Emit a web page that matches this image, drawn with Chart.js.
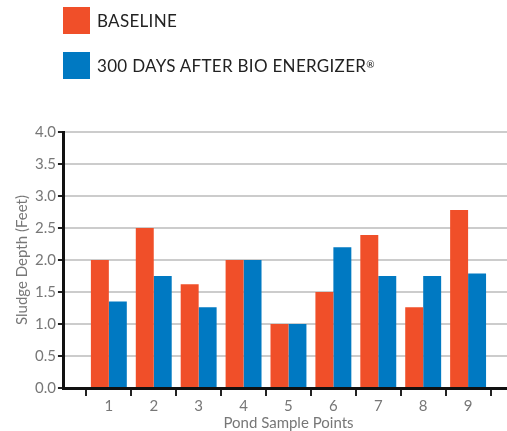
<!DOCTYPE html>
<html>
<head>
<meta charset="utf-8">
<script src="https://cdn.jsdelivr.net/npm/chart.js@4"></script>
<style>
  html, body { margin: 0; padding: 0; background: #fff; overflow: hidden; }
  #wrap { position: relative; width: 516px; height: 431px; }
  #legend { position: absolute; left: 63px; top: 7px; font-family: Lato, "Open Sans", sans-serif; }
  .item { display: flex; align-items: center; height: 27px; margin-bottom: 18px; font-size: 17px; color: #222; letter-spacing: 0.3px; }
  .box { width: 27px; height: 27px; margin-right: 7px; }
  .item sup { font-size: 10px; position: relative; top: -2px; }
</style>
</head>
<body>
<div id="wrap">
  <div id="legend"></div>
  <canvas id="sludge-chart" width="516" height="431"></canvas>
</div>
<script>
const points = ["1", "2", "3", "4", "5", "6", "7", "8", "9"];
const baseline = [2.0, 2.5, 1.62, 2.0, 1.0, 1.5, 2.39, 1.26, 2.78];
const after300 = [1.35, 1.75, 1.26, 2.0, 1.0, 2.2, 1.75, 1.75, 1.79];
const yTicks = [0, 0.5, 1, 1.5, 2, 2.5, 3, 3.5, 4];

const seriesNames = ["BASELINE", "300 DAYS AFTER BIO ENERGIZER®"];
const seriesColors = ["#f04f29", "#0079c2"];

// empty slot before 1 and after 9 so the axis starts one step left
const labels = ["", ...points, ""];
const pad = (arr) => [null, ...arr, null];

const legend = document.getElementById("legend");
seriesNames.forEach((name, i) => {
  const item = document.createElement("div");
  item.className = "item";
  const box = document.createElement("span");
  box.className = "box";
  box.style.background = seriesColors[i];
  item.appendChild(box);
  const parts = name.split("®");
  item.appendChild(document.createTextNode(parts[0]));
  if (parts.length > 1) {
    const sup = document.createElement("sup");
    sup.textContent = "®";
    item.appendChild(sup);
  }
  legend.appendChild(item);
});

const ctx = document.getElementById("sludge-chart").getContext("2d");
const tickFont = { family: "Lato, 'Open Sans', sans-serif", size: 15 };

new Chart(ctx, {
  type: "bar",
  data: {
    labels: labels,
    datasets: [
      { label: seriesNames[0], data: pad(baseline), backgroundColor: seriesColors[0] },
      { label: seriesNames[1], data: pad(after300), backgroundColor: seriesColors[1] },
    ],
  },
  options: {
    responsive: false,
    animation: false,
    categoryPercentage: 0.8,
    barPercentage: 1.0,
    layout: { padding: { top: 132, left: 13, right: 3, bottom: -1 } },
    plugins: { legend: { display: false }, tooltip: { enabled: false } },
    scales: {
      x: {
        offset: false,
        grid: { drawOnChartArea: false, drawTicks: true, tickLength: 8, color: "#222", lineWidth: 2 },
        border: { color: "#111", width: 3 },
        ticks: { color: "#777", font: tickFont, padding: 1, maxRotation: 0, autoSkip: false },
        title: { display: true, text: "Pond Sample Points", color: "#777", font: { family: tickFont.family, size: 15 }, padding: { top: -2, bottom: 0 } },
      },
      y: {
        min: 0,
        max: 4,
        afterBuildTicks: (axis) => { axis.ticks = yTicks.map((v) => ({ value: v })); },
        grid: { color: "#cccccc", lineWidth: 2, tickLength: 6, tickColor: "#222" },
        border: { color: "#111", width: 3 },
        ticks: { color: "#777", font: tickFont, padding: 2, callback: (v) => v.toFixed(1) },
        title: { display: true, text: "Sludge Depth (Feet)", color: "#777", font: { family: tickFont.family, size: 15 }, padding: { top: 0, bottom: 2 } },
      },
    },
  },
});
</script>
</body>
</html>
